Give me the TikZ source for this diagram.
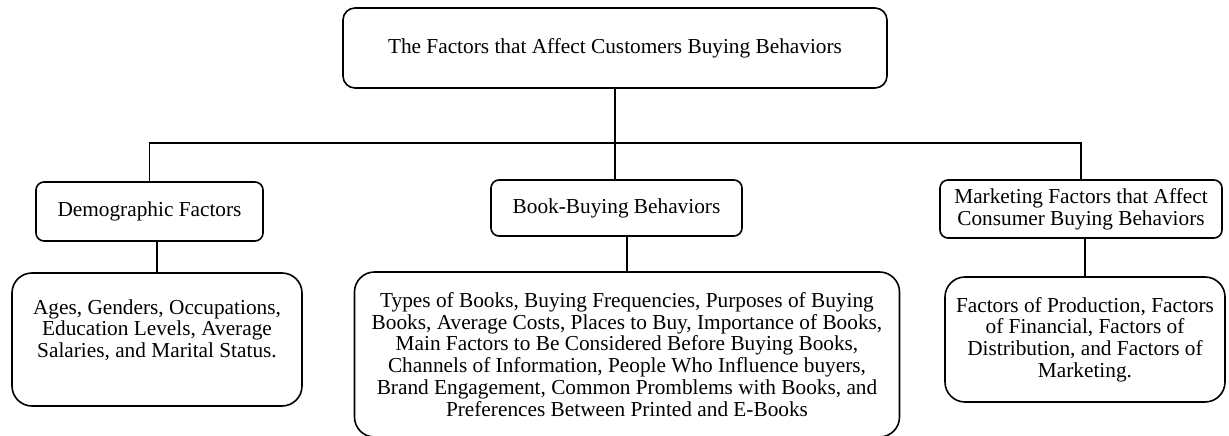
\documentclass[tikz,border=0pt]{standalone}
\usepackage{fontspec}
\setmainfont{Liberation Serif}

\begin{document}
\begin{tikzpicture}[x=1pt, y=-1pt,
    every node/.style={font=\fontsize{21.3}{21.8}\selectfont, align=center, inner sep=2pt},
    headbox/.style={draw, line width=1.6pt, rounded corners=12pt},
    groupbox/.style={draw, line width=1.6pt, rounded corners=8pt},
    itembox/.style={draw, line width=1.6pt, rounded corners=20pt},
    link/.style={line width=1.6pt}]
                    \useasboundingbox (0,0) rectangle (1229,436);

                    \node (title) [headbox, minimum width=544pt, minimum height=80pt] at (615,48)
                        {The Factors that Affect Customers Buying Behaviors};

                    \node (demo) [groupbox, minimum width=227pt, minimum height=59pt] at (149.5,211.5)
                        {Demographic Factors};
                    \node (book) [groupbox, minimum width=251pt, minimum height=56pt] at (616.5,208)
                        {Book-Buying Behaviors};
                    \node (mkt) [groupbox, minimum width=282pt, minimum height=58pt] at (1081,209)
                        {Marketing Factors that Affect\\Consumer Buying Behaviors};

                    \node (demolist) [itembox, minimum width=290pt, minimum height=133pt, text depth=22pt] at (157,339.5)
                        {Ages, Genders, Occupations,\\Education Levels, Average\\Salaries, and Marital Status.};
                    \node (booklist) [itembox, minimum width=545pt, minimum height=165pt] at (627,354.5)
                        {Types of Books, Buying Frequencies, Purposes of Buying\\
                         Books, Average Costs, Places to Buy, Importance of Books,\\
                         Main Factors to Be Considered Before Buying Books,\\
                         Channels of Information, People Who Influence buyers,\\
                         Brand Engagement, Common Promblems with Books, and\\
                         Preferences Between Printed and E-Books};
                    \node (mktlist) [itembox, minimum width=280pt, minimum height=125pt] at (1085,339.5)
                        {Factors of Production, Factors\\of Financial, Factors of\\Distribution, and Factors of\\Marketing.};

                    % branch point under the title
                    \coordinate (split) at (615,143);

                    \draw [link] (title) -- (split);
                    \draw [link] (split) -- (split |- book.north);
                    \draw [link] (split) -| (demo);
                    \draw [link] (split) -| (mkt);

                    \draw [link] (demolist.north) -- (demolist.north |- demo.south);
                    \draw [link] (booklist.north) -- (booklist.north |- book.south);
                    \draw [link] (mktlist.north) -- (mktlist.north |- mkt.south);
                \end{tikzpicture}
\end{document}
